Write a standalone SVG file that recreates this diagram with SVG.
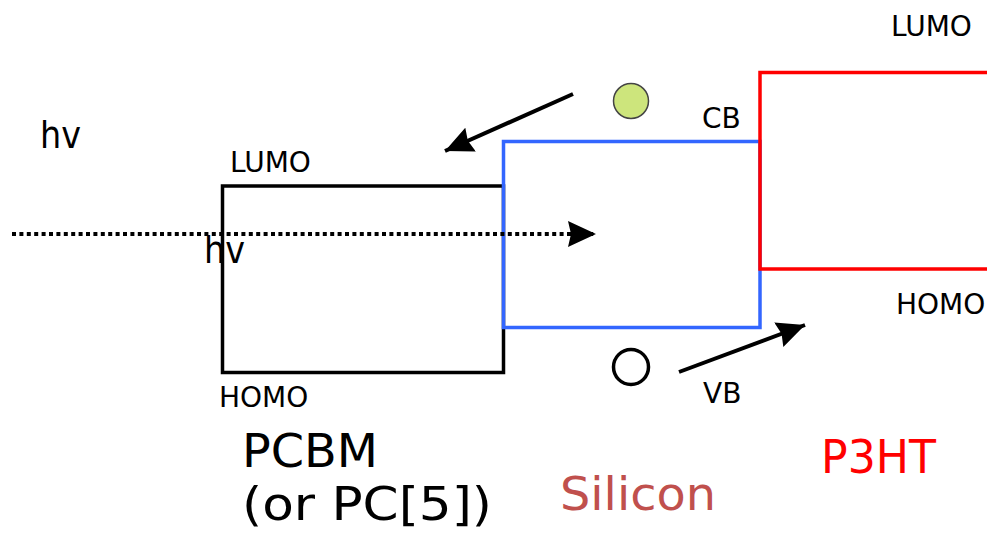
<svg xmlns="http://www.w3.org/2000/svg" width="987" height="536" viewBox="0 0 987 536">
<style>
text{font-family:"DejaVu Sans","Verdana",sans-serif;fill:#000}
.lbl{font-size:28px}
.big{font-size:47px}
.band{fill:none;stroke-width:3.5}
.arr{fill:none;stroke:#000;stroke-width:4}
</style>
<defs>
<marker id="ah" markerUnits="userSpaceOnUse" markerWidth="30" markerHeight="26" viewBox="0 0 30 26" refX="28" refY="13" orient="auto">
<path d="M0,0 L28,13 L0,26 L3,13 Z" fill="#000"/>
</marker>
</defs>
<rect width="987" height="536" fill="#fff"/>
<g id="pcbm">
<rect class="band" x="222.5" y="186" width="281" height="186.5" stroke="#000"/>
<text class="lbl" x="230" y="172">LUMO</text>
<text class="lbl" x="219" y="407">HOMO</text>
<text class="big" x="242" y="467" textLength="136" lengthAdjust="spacingAndGlyphs">PCBM</text>
<text class="big" x="242" y="520" textLength="250" lengthAdjust="spacingAndGlyphs">(or PC[5])</text>
</g>
<g id="silicon">
<rect class="band" x="503.5" y="141.5" width="256.5" height="186" stroke="#3366ff"/>
<text class="lbl" x="702" y="128" font-size="27">CB</text>
<text class="lbl" x="703" y="403" font-size="27">VB</text>
<text class="big" x="560" y="510" style="fill:#c0504d" font-size="50" textLength="156" lengthAdjust="spacingAndGlyphs">Silicon</text>
</g>
<g id="p3ht">
<path class="band" d="M987,72.5 H760 V269 H987" stroke="#ff0000"/>
<text class="lbl" x="891" y="36">LUMO</text>
<text class="lbl" x="896" y="314">HOMO</text>
<text class="big" x="821" y="473" style="fill:#ff0000" font-size="49" textLength="115" lengthAdjust="spacingAndGlyphs">P3HT</text>
</g>
<g id="electron">
<circle cx="631" cy="101" r="17.5" fill="#cde57c" stroke="#444" stroke-width="1.5"/>
</g>
<g id="hole">
<circle cx="631" cy="367" r="17.5" fill="#fff" stroke="#000" stroke-width="3.5"/>
</g>
<g id="photon-labels">
<text x="40" y="148" font-size="38" textLength="41" lengthAdjust="spacingAndGlyphs">hv</text>
<text x="204" y="263" font-size="38" textLength="41" lengthAdjust="spacingAndGlyphs">hv</text>
</g>
<g id="connectors">
<line class="arr" x1="12" y1="234" x2="596" y2="234" stroke-dasharray="4 3.4" marker-end="url(#ah)"/>
<line class="arr" x1="573" y1="94" x2="445" y2="151" marker-end="url(#ah)"/>
<line class="arr" x1="679" y1="372" x2="805" y2="325" marker-end="url(#ah)"/>
</g>
</svg>
